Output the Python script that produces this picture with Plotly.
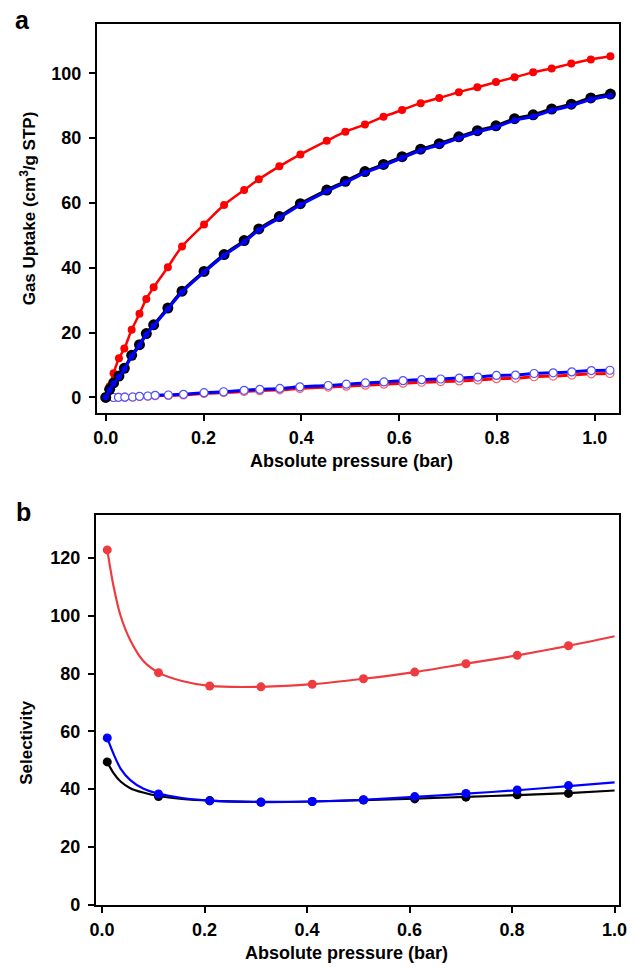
import plotly.graph_objects as go

# ---------- Panel a : gas uptake isotherms ----------
p_fill = [0.0, 0.008, 0.016, 0.027, 0.038, 0.053, 0.069, 0.083, 0.098, 0.127, 0.156,
          0.201, 0.242, 0.283, 0.313, 0.355, 0.398, 0.452, 0.49, 0.53, 0.568, 0.606,
          0.644, 0.682, 0.722, 0.76, 0.798, 0.836, 0.874, 0.912, 0.952, 0.992, 1.032]
red_fill = [0, 3.5, 7.5, 12.1, 15.1, 20.9, 25.8, 30.4, 34.0, 40.2, 46.6,
            53.4, 59.4, 64.0, 67.3, 71.3, 75.0, 79.2, 82.0, 84.2, 86.6, 88.7,
            90.8, 92.4, 94.2, 95.7, 97.3, 98.8, 100.3, 101.5, 103.0, 104.3, 105.3]
black_fill = [0, 2.5, 4.5, 6.6, 9.0, 13.0, 16.3, 19.7, 22.4, 27.6, 32.8,
              38.9, 44.1, 48.4, 52.0, 55.8, 59.8, 64.0, 66.7, 69.7, 71.9, 74.3,
              76.6, 78.3, 80.4, 82.3, 83.8, 86.0, 87.2, 89.0, 90.5, 92.4, 93.6]
blue_fill = [0, 2.3, 4.3, 6.3, 8.7, 12.7, 16.0, 19.4, 22.1, 27.3, 32.5,
             38.6, 43.8, 48.0, 51.6, 55.4, 59.4, 63.6, 66.3, 69.3, 71.5, 73.9,
             76.2, 77.9, 80.0, 81.9, 83.4, 85.5, 86.7, 88.5, 90.0, 91.9, 93.1]

p_open = [0.001, 0.016, 0.026, 0.039, 0.055, 0.069, 0.086, 0.101, 0.128, 0.159, 0.201,
          0.241, 0.283, 0.315, 0.356, 0.397, 0.455, 0.492, 0.531, 0.569, 0.608, 0.646,
          0.685, 0.723, 0.761, 0.799, 0.838, 0.876, 0.915, 0.953, 0.993, 1.031]
blue_open = [0, 0, 0.05, 0.1, 0.15, 0.37, 0.46, 0.67, 0.76, 0.97, 1.47,
             1.77, 2.2, 2.5, 2.8, 3.3, 3.7, 4.1, 4.5, 4.8, 5.2, 5.5,
             5.7, 6.0, 6.3, 6.8, 6.9, 7.4, 7.6, 7.9, 8.3, 8.4]
red_open = [0, 0, 0.04, 0.08, 0.12, 0.3, 0.38, 0.55, 0.62, 0.8, 1.25,
            1.5, 1.85, 2.1, 2.35, 2.8, 3.2, 3.5, 3.8, 4.1, 4.4, 4.7,
            4.9, 5.1, 5.4, 5.8, 5.9, 6.4, 6.6, 6.9, 7.3, 7.4]

# ---------- Panel b : selectivity ----------
p_sel = [0.01, 0.11, 0.21, 0.31, 0.41, 0.51, 0.61, 0.71, 0.81, 0.91]
red_sel = [122.8, 80.3, 75.7, 75.4, 76.3, 78.2, 80.5, 83.4, 86.3, 89.6]
black_sel = [49.4, 37.4, 36.0, 35.5, 35.7, 36.2, 36.6, 37.2, 38.0, 38.5]
blue_sel = [57.7, 38.3, 35.9, 35.4, 35.7, 36.3, 37.4, 38.5, 39.7, 41.2]

# fitted curves
p_fit = [0.01, 0.022, 0.036, 0.055, 0.08, 0.11, 0.156, 0.21, 0.31, 0.41, 0.51, 0.61, 0.71, 0.81, 0.91, 1.0]
red_fit = [122.8, 110.5, 100.0, 91.5, 84.4, 80.3, 77.4, 75.7, 75.4, 76.3, 78.2, 80.5, 83.4, 86.3, 89.6, 92.9]
black_fit = [49.4, 45.6, 42.6, 40.3, 38.8, 37.6, 36.6, 36.0, 35.6, 35.7, 36.2, 36.7, 37.3, 37.9, 38.6, 39.5]
blue_fit = [57.7, 52.3, 47.1, 43.1, 40.2, 38.4, 36.9, 36.0, 35.5, 35.7, 36.3, 37.3, 38.4, 39.6, 41.0, 42.3]

x_ticks = [0.0, 0.2, 0.4, 0.6, 0.8, 1.0]
ya_ticks = [0, 20, 40, 60, 80, 100]
yb_ticks = [0, 20, 40, 60, 80, 100, 120]

RED = "#FF0000"
RED_B = "#EE3B3F"
BLUE = "#0000FF"
BLACK = "#000000"
FONT = "Liberation Sans"

W, H = 636, 973
fig = go.Figure()

# panel a traces
fig.add_trace(go.Scatter(x=p_open, y=red_open, mode="lines+markers",
                         line=dict(color=RED, width=3, shape="spline"),
                         marker=dict(size=8, color="white", line=dict(color="#FF6060", width=1.2)),
                         xaxis="x", yaxis="y", showlegend=False))
fig.add_trace(go.Scatter(x=p_open, y=blue_open, mode="lines+markers",
                         line=dict(color=BLUE, width=3, shape="spline"),
                         marker=dict(size=8, color="white", line=dict(color="#5050FF", width=1.2)),
                         xaxis="x", yaxis="y", showlegend=False))
fig.add_trace(go.Scatter(x=p_fill, y=red_fill, mode="lines+markers",
                         line=dict(color=RED, width=2.5, shape="spline"),
                         marker=dict(size=8, color=RED),
                         xaxis="x", yaxis="y", showlegend=False))
fig.add_trace(go.Scatter(x=p_fill, y=black_fill, mode="lines+markers",
                         line=dict(color=BLACK, width=3, shape="spline"),
                         marker=dict(size=11, color=BLACK),
                         xaxis="x", yaxis="y", showlegend=False))
fig.add_trace(go.Scatter(x=p_fill, y=blue_fill, mode="lines+markers",
                         line=dict(color=BLUE, width=3, shape="spline"),
                         marker=dict(size=6, color=BLUE),
                         xaxis="x", yaxis="y", showlegend=False))

# panel b traces
for fx, fy, sx, sy, col in [(p_fit, red_fit, p_sel, red_sel, RED_B),
                            (p_fit, black_fit, p_sel, black_sel, BLACK),
                            (p_fit, blue_fit, p_sel, blue_sel, BLUE)]:
    fig.add_trace(go.Scatter(x=fx, y=fy, mode="lines",
                             line=dict(color=col, width=2.2, shape="spline", smoothing=0.8),
                             xaxis="x2", yaxis="y2", showlegend=False, hoverinfo="skip"))
    fig.add_trace(go.Scatter(x=sx, y=sy, mode="markers",
                             marker=dict(size=9, color=col),
                             xaxis="x2", yaxis="y2", showlegend=False))

tickfont = dict(family=FONT, size=18, color="black", weight="bold")
axis_common = dict(showline=True, linecolor="black", linewidth=2, mirror=True,
                   ticks="outside", ticklen=6, tickwidth=2, tickcolor="black",
                   showgrid=False, zeroline=False, tickfont=tickfont)

fig.update_layout(
    width=W, height=H, margin=dict(l=0, r=0, t=0, b=0),
    paper_bgcolor="white", plot_bgcolor="white",
    xaxis=dict(domain=[93 / W, 627 / W], range=[-0.018, 1.05], tickvals=x_ticks,
               tickformat=".1f", anchor="y", ticklabelstandoff=2, **axis_common),
    yaxis=dict(domain=[1 - 417 / H, 1 - 24 / H], range=[-4.7, 115.3], tickvals=ya_ticks,
               anchor="x", ticklabelstandoff=4, **axis_common),
    xaxis2=dict(domain=[92 / W, 627 / W], range=[-0.012, 1.009], tickvals=x_ticks,
                tickformat=".1f", anchor="y2", ticklabelstandoff=2, **axis_common),
    yaxis2=dict(domain=[1 - 914 / H, 1 - 520 / H], range=[0, 135], tickvals=yb_ticks,
                anchor="x2", ticklabelstandoff=4, **axis_common),
)

xt_font = dict(family=FONT, size=18, color="black", weight="bold")
yt_font = dict(family=FONT, size=17, color="black", weight="bold")
annots = [
    dict(text="a", x=17 / W, y=1 - 20 / H, font=dict(family=FONT, size=25, color="black", weight="bold")),
    dict(text="b", x=18 / W, y=1 - 517 / H, font=dict(family=FONT, size=25, color="black", weight="bold")),
    dict(text="Absolute pressure (bar)", x=353 / W, y=1 - 466 / H, font=xt_font),
    dict(text="Absolute pressure (bar)", x=348 / W, y=1 - 963 / H, font=xt_font),
    dict(text="Gas Uptake (cm<sup>3</sup>/g STP)", x=22 / W, y=1 - 211 / H, textangle=-90, font=yt_font),
    dict(text="Selectivity", x=21 / W, y=1 - 750 / H, textangle=-90, font=yt_font),
]
for a in annots:
    fig.add_annotation(xref="paper", yref="paper", showarrow=False,
                       xanchor="center", yanchor="middle", **a)

fig.write_html("out.html", config={"displayModeBar": False},
               post_script="document.body.style.margin='0';document.body.style.overflow='hidden';")
